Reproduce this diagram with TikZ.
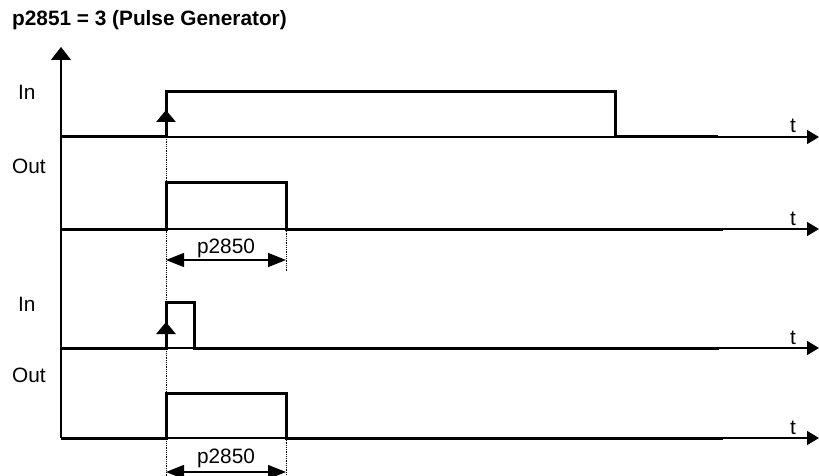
\documentclass[tikz,border=0pt]{standalone}
\usepackage{fontspec}
\setmainfont{Liberation Sans}
\usetikzlibrary{arrows.meta,positioning}

\begin{document}
\begin{tikzpicture}[x=1pt,y=-1pt,>={Triangle[width=14pt,length=12pt]},every node/.style={font=\fontsize{20.8}{25}\selectfont,inner sep=0pt},
  sig/.style={line width=3pt},axis/.style={line width=1.2pt},guide/.style={densely dotted,line width=0.8pt},
  edgetip/.style={line width=3pt,-{Triangle[width=19pt,length=12pt]}},
  dim/.style={line width=1.2pt,{Triangle[width=14pt,length=18pt]}-{Triangle[width=14pt,length=18pt]}}]
\useasboundingbox (0,0) rectangle (819,476);
\node[anchor=base west,font=\bfseries\fontsize{20.8}{25}\selectfont] (title) at (12,26) {p2851 = 3 (Pulse Generator)};
% axes
\coordinate (origin) at (61,438); \coordinate (ytip) at (61,47);
\draw[axis,-{Triangle[width=20pt,length=13pt]}] (origin) -- (ytip);
\foreach \y/\n in {137/a,229/b,348/c,438/d} {
  \coordinate (base\n) at (61,\y); \coordinate (end\n) at (819,\y);
  \draw[axis,->] (base\n) -- (end\n);
  \node[anchor=base] (t\n) at (793,\y-4) {t};
}
\node[anchor=base west] (ina) at (18,100) {In};
\node[anchor=base west] (outb) at (12,173) {Out};
\node[anchor=base west] (inc) at (18,311) {In};
\node[anchor=base west] (outd) at (12,382) {Out};
% guides
\draw[guide] (166,137) -- (166,476);
\draw[guide] (286,229) -- (286,272);
\draw[guide] (286,438) -- (286,476);
% signals
\draw[sig] (basea) -- (166,137) -- (166,92) -- (615,92) -- (615,137) -- (718,137);
\draw[edgetip] (166,137) -- (166,110);
\draw[sig] (baseb) -- (166,229) -- (166,182) -- (286,182) -- (286,229) -- (723,229);
\draw[sig] (basec) -- (166,348) -- (166,302) -- (194,302) -- (194,348) -- (719,348);
\draw[edgetip] (166,348) -- (166,322);
\draw[sig] (based) -- (166,438) -- (166,393) -- (286,393) -- (286,438) -- (723,438);
% pulse width
\draw[dim] (166,260) -- (286,260); \node[anchor=base] (pb) at (226,253) {p2850};
\draw[dim] (166,472) -- (286,472); \node[anchor=base] (pd) at (226,463) {p2850};
\end{tikzpicture}
\end{document}
